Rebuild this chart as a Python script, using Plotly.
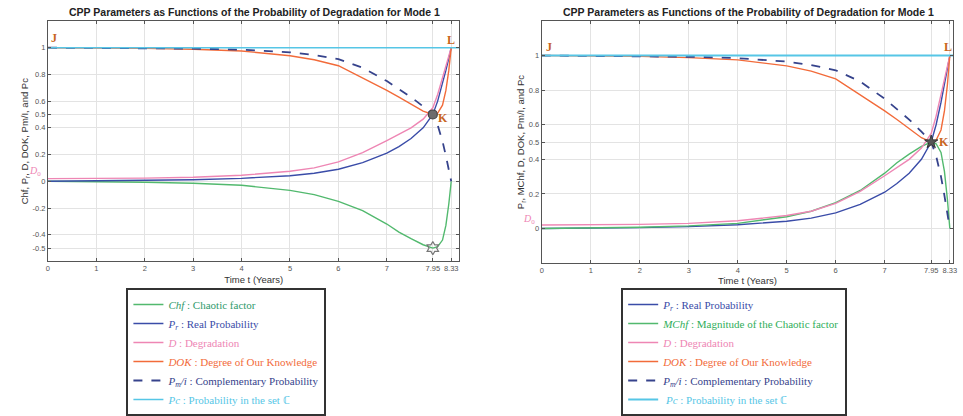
import plotly.graph_objects as go

# ---------------- data ----------------
t = [0, 1, 2, 3, 4, 5, 5.5, 6, 6.5, 7, 7.25, 7.5, 7.75, 7.95, 8.05, 8.15, 8.22, 8.28, 8.33]
pr = [0, 0.002, 0.005, 0.011, 0.022, 0.042, 0.06, 0.09, 0.14, 0.21, 0.26, 0.32, 0.4, 0.5,
      0.6, 0.73, 0.83, 0.92, 1.0]
deg = [0.02, 0.021, 0.024, 0.03, 0.045, 0.075, 0.1, 0.145, 0.215, 0.305, 0.35, 0.4, 0.465, 0.55,
       0.65, 0.78, 0.87, 0.94, 1.0]
mchf = [0, 0.003, 0.007, 0.015, 0.03, 0.068, 0.1, 0.15, 0.22, 0.32, 0.38, 0.43, 0.475, 0.5,
        0.49, 0.44, 0.33, 0.17, 0]
chf = [0, -0.003, -0.007, -0.015, -0.03, -0.068, -0.1, -0.15, -0.22, -0.32, -0.38, -0.43,
       -0.475, -0.5, -0.49, -0.44, -0.33, -0.17, 0]
dok = [1, 0.998, 0.995, 0.988, 0.975, 0.94, 0.91, 0.865, 0.775, 0.68, 0.63, 0.58, 0.525, 0.5,
       0.51, 0.57, 0.68, 0.83, 1.0]
pm = [1, 0.999, 0.997, 0.993, 0.985, 0.965, 0.945, 0.915, 0.85, 0.75, 0.69, 0.63, 0.56, 0.5,
      0.42, 0.3, 0.19, 0.08, 0]
pc_t = [0, 8.5]
pc = [1, 1]

k_t = [7.95]
k_val = [0.5]
chf_min = [-0.5]

x_ticks = [0, 1, 2, 3, 4, 5, 6, 7, 7.95, 8.33]
x_labels = ["0", "1", "2", "3", "4", "5", "6", "7", "7.95", "8.33"]
y_ticks_left = [-0.5, -0.4, -0.2, 0, 0.2, 0.4, 0.5, 0.6, 0.8, 1]
y_ticks_right = [0, 0.2, 0.4, 0.5, 0.6, 0.8, 1]

title = "CPP Parameters as Functions of the Probability of Degradation for Mode 1"

# ---------------- styles ----------------
C_GREEN = "#52b96e"
C_BLUE = "#3a4ca8"
C_PINK = "#ee86b4"
C_ORANGE = "#f26b3a"
C_NAVY = "#36438c"
C_CYAN = "#56c6e6"
C_LETTER = "#c8641e"

SANS = "Liberation Sans"
SERIF = "Liberation Serif"


def lab(color, txt):
    return '<span style="color:%s">%s</span>' % (color, txt)


fig = go.Figure()

# ---- left panel ----
L = dict(xaxis="x", yaxis="y", legend="legend")
fig.add_trace(go.Scatter(x=t, y=chf, mode="lines", line=dict(color=C_GREEN, width=1.4),
                         name=lab("#2f9a6c", "<i>Chf</i> : Chaotic factor"), **L))
fig.add_trace(go.Scatter(x=t, y=pr, mode="lines", line=dict(color=C_BLUE, width=1.4),
                         name=lab(C_BLUE, "<i>P<sub>r</sub></i> : Real Probability"), **L))
fig.add_trace(go.Scatter(x=t, y=deg, mode="lines", line=dict(color=C_PINK, width=1.4),
                         name=lab(C_PINK, "<i>D</i> : Degradation"), **L))
fig.add_trace(go.Scatter(x=t, y=dok, mode="lines", line=dict(color=C_ORANGE, width=1.4),
                         name=lab(C_ORANGE, "<i>DOK</i> : Degree of Our Knowledge"), **L))
fig.add_trace(go.Scatter(x=t, y=pm, mode="lines", line=dict(color=C_NAVY, width=1.8, dash="dash"),
                         name=lab(C_NAVY, "<i>P<sub>m</sub>/i</i> : Complementary Probability"), **L))
fig.add_trace(go.Scatter(x=pc_t, y=pc, mode="lines", line=dict(color=C_CYAN, width=1.5),
                         name=lab(C_CYAN, "<i>Pc</i> : Probability in the set ℂ"), **L))
fig.add_trace(go.Scatter(x=k_t, y=k_val, mode="markers", showlegend=False, xaxis="x", yaxis="y",
                         marker=dict(symbol="circle", size=9, color="#6d6d6d",
                                     line=dict(color="#444", width=1.2))))
fig.add_trace(go.Scatter(x=k_t, y=chf_min, mode="markers", showlegend=False, xaxis="x", yaxis="y",
                         marker=dict(symbol="hexagram-open", size=10, color="#777",
                                     line=dict(color="#777", width=1.2))))

# ---- right panel ----
R = dict(xaxis="x2", yaxis="y2", legend="legend2")
fig.add_trace(go.Scatter(x=t, y=pr, mode="lines", line=dict(color=C_BLUE, width=1.4),
                         name=lab(C_BLUE, "<i>P<sub>r</sub></i> : Real Probability"), **R))
fig.add_trace(go.Scatter(x=t, y=mchf, mode="lines", line=dict(color=C_GREEN, width=1.4),
                         name=lab("#2fae5a", "<i>MChf</i> : Magnitude of the Chaotic factor"), **R))
fig.add_trace(go.Scatter(x=t, y=deg, mode="lines", line=dict(color=C_PINK, width=1.4),
                         name=lab(C_PINK, "<i>D</i> : Degradation"), **R))
fig.add_trace(go.Scatter(x=t, y=dok, mode="lines", line=dict(color=C_ORANGE, width=1.4),
                         name=lab(C_ORANGE, "<i>DOK</i> : Degree of Our Knowledge"), **R))
fig.add_trace(go.Scatter(x=t, y=pm, mode="lines", line=dict(color=C_NAVY, width=1.8, dash="dash"),
                         name=lab(C_NAVY, "<i>P<sub>m</sub>/i</i> : Complementary Probability"), **R))
fig.add_trace(go.Scatter(x=pc_t, y=pc, mode="lines", line=dict(color=C_CYAN, width=2),
                         name=lab(C_CYAN, " <i>Pc</i> : Probability in the set ℂ"), **R))
fig.add_trace(go.Scatter(x=k_t, y=k_val, mode="markers", showlegend=False, xaxis="x2", yaxis="y2",
                         marker=dict(symbol="star", size=10, color="#555",
                                     line=dict(color="#333", width=1))))

axis_common = dict(showgrid=True, gridcolor="#e3e3e3", gridwidth=1, zeroline=False,
                   showline=True, linecolor="#555", linewidth=1, mirror="ticks",
                   ticks="inside", ticklen=3, tickcolor="#555", tickangle=0,
                   tickfont=dict(family=SANS, size=7.5, color="#555"))
title_font = dict(family=SANS, size=9.5, color="#333")

legend_common = dict(xanchor="left", yanchor="top", bgcolor="white",
                     bordercolor="#333", borderwidth=2, itemwidth=30, tracegroupgap=0,
                     font=dict(family=SERIF, size=11))

fig.update_layout(
    width=963, height=416, margin=dict(l=0, r=0, t=0, b=0),
    paper_bgcolor="white", plot_bgcolor="white",
    xaxis=dict(domain=[0.048, 0.478], range=[0, 8.5], anchor="y",
               tickvals=x_ticks, ticktext=x_labels,
               title=dict(text="Time t (Years)", font=title_font, standoff=3),
               **axis_common),
    yaxis=dict(domain=[0.370, 0.9495], range=[-0.6, 1.2], anchor="x",
               tickvals=y_ticks_left, ticktext=[str(v) for v in y_ticks_left],
               title=dict(text="Chf, P<sub>r</sub>, D, DOK, Pm/I, and Pc", font=title_font,
                          standoff=2),
               **axis_common),
    xaxis2=dict(domain=[0.564, 0.994], range=[0, 8.4], anchor="y2",
                tickvals=x_ticks, ticktext=x_labels,
                title=dict(text="Time t (Years)", font=title_font, standoff=2),
                **axis_common),
    yaxis2=dict(domain=[0.366, 0.9495], range=[-0.2, 1.2], anchor="x2",
                tickvals=y_ticks_right, ticktext=[str(v) for v in y_ticks_right],
                title=dict(text="P<sub>r</sub>, MChf, D, DOK, Pm/I, and Pc", font=title_font,
                           standoff=2),
                **axis_common),
    legend=dict(x=0.13, y=0.306, entrywidth=232, **legend_common),
    legend2=dict(x=0.647, y=0.306, entrywidth=254, **legend_common),
    showlegend=True,
)

ann = []
for x0 in (0.264, 0.780):
    ann.append(dict(text="<b>" + title + "</b>", xref="paper", yref="paper", x=x0, y=0.971,
                    xanchor="center", yanchor="middle", showarrow=False,
                    font=dict(family=SANS, size=10.5, color="#222")))
letter_font = dict(family=SERIF, size=12, color=C_LETTER)
ann += [
    dict(text="<b>J</b>", x=0.12, y=1.07, xref="x", yref="y", showarrow=False, font=letter_font),
    dict(text="<b>L</b>", x=8.33, y=1.06, xref="x", yref="y", showarrow=False, font=letter_font),
    dict(text="<b>K</b>", x=8.17, y=0.47, xref="x", yref="y", showarrow=False, font=letter_font),
    dict(text="<i>D</i><sub>0</sub>", x=0, y=0.075, xref="x", yref="y", showarrow=False,
         xanchor="right", xshift=-5, font=dict(family=SERIF, size=10, color=C_PINK)),
    dict(text="<b>J</b>", x=0.15, y=1.05, xref="x2", yref="y2", showarrow=False, font=letter_font),
    dict(text="<b>L</b>", x=8.3, y=1.05, xref="x2", yref="y2", showarrow=False, font=letter_font),
    dict(text="<b>K</b>", x=8.22, y=0.5, xref="x2", yref="y2", showarrow=False, font=letter_font),
    dict(text="<i>D</i><sub>0</sub>", x=0, y=0.05, xref="x2", yref="y2", showarrow=False,
         xanchor="right", xshift=-5, font=dict(family=SERIF, size=10, color=C_PINK)),
]
fig.update_layout(annotations=ann)

fig.write_html("out.html")
